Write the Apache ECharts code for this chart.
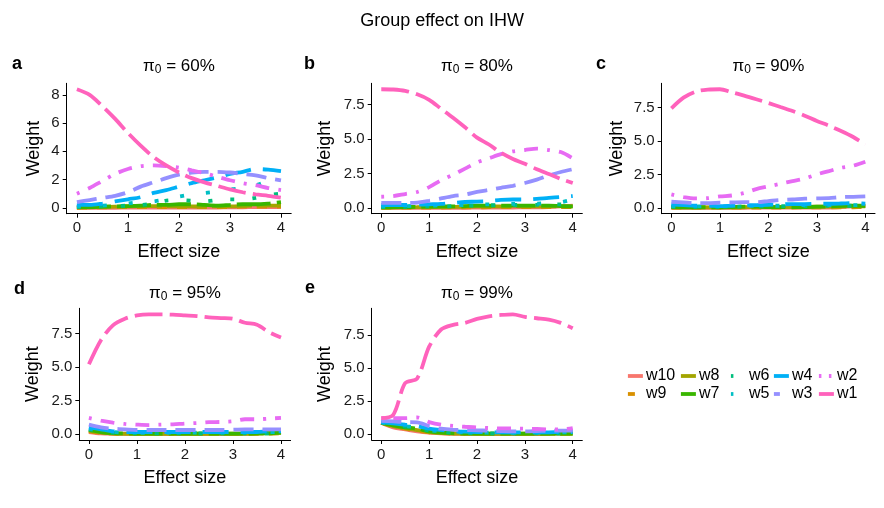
<!DOCTYPE html>
<html>
<head>
<meta charset="utf-8">
<script src="https://cdn.jsdelivr.net/npm/echarts@6/dist/echarts.min.js"></script>
<style>html,body{margin:0;padding:0;background:#fff}#c{width:884px;height:508px}</style>
</head>
<body>
<div id="c"></div>
<script>
// ---------- DATA ----------
const X = [0, 0.25, 0.5, 0.75, 1, 1.25, 1.5, 1.75, 2, 2.25, 2.5, 2.75, 3, 3.25, 3.5, 3.75, 4];
const NAMES = ['w1','w2','w3','w4','w5','w6','w7','w8','w9','w10'];
const X_TICKS = [0, 1, 2, 3, 4];
const PANEL_LETTERS = ['a','b','c','d','e'];
const PANEL_PI0 = ['60%','80%','90%','95%','99%'];
const Y_TICKS_A = [0, 2, 4, 6, 8];
const Y_TICKS_B = [0, 2.5, 5, 7.5];

// panel a (pi0 = 60%), rows w1..w10
const panelA = [
  [8.4, 8.0, 7.2, 6.3, 5.3, 4.4, 3.6, 3.0, 2.5, 2.1, 1.8, 1.55, 1.3, 1.1, 0.95, 0.85, 0.72],
  [1.0, 1.4, 1.9, 2.4, 2.75, 2.95, 3.0, 2.95, 2.85, 2.65, 2.45, 2.2, 1.95, 1.75, 1.6, 1.4, 1.25],
  [0.4, 0.55, 0.7, 0.85, 1.1, 1.5, 1.8, 2.1, 2.35, 2.5, 2.55, 2.55, 2.5, 2.4, 2.3, 2.1, 1.95],
  [0.2, 0.2, 0.3, 0.45, 0.6, 0.75, 1.05, 1.25, 1.5, 1.75, 1.95, 2.15, 2.4, 2.55, 2.75, 2.7, 2.6],
  [0.1, 0.12, 0.15, 0.2, 0.3, 0.4, 0.45, 0.6, 0.8, 0.95, 1.05, 1.15, 1.3, 1.4, 1.6, 1.9, 2.2],
  [0.05, 0.08, 0.1, 0.12, 0.15, 0.2, 0.3, 0.5, 0.55, 0.5, 0.45, 0.55, 0.6, 0.6, 0.7, 0.9, 1.0],
  [0.05, 0.05, 0.08, 0.1, 0.12, 0.15, 0.2, 0.2, 0.25, 0.25, 0.2, 0.15, 0.2, 0.25, 0.25, 0.3, 0.4],
  [0.02, 0.03, 0.05, 0.08, 0.1, 0.12, 0.12, 0.1, 0.1, 0.1, 0.08, 0.1, 0.1, 0.12, 0.15, 0.15, 0.15],
  [0.01, 0.02, 0.03, 0.04, 0.05, 0.05, 0.05, 0.05, 0.05, 0.05, 0.05, 0.05, 0.05, 0.08, 0.08, 0.08, 0.1],
  [0, 0, 0, 0, 0.01, 0.01, 0.02, 0.02, 0.02, 0.02, 0.02, 0.02, 0.03, 0.03, 0.05, 0.05, 0.05]
];
// panel b (pi0 = 80%)
const panelB = [
  [8.62, 8.6, 8.5, 8.25, 7.85, 7.2, 6.55, 5.85, 5.1, 4.6, 4.0, 3.55, 3.2, 2.8, 2.45, 2.1, 1.8],
  [0.8, 0.85, 1.0, 1.15, 1.5, 2.0, 2.4, 2.85, 3.3, 3.6, 3.9, 4.1, 4.2, 4.3, 4.2, 4.05, 3.6],
  [0.35, 0.35, 0.35, 0.38, 0.5, 0.68, 0.85, 0.95, 1.15, 1.3, 1.45, 1.6, 1.8, 2.05, 2.35, 2.6, 2.8],
  [0.2, 0.2, 0.2, 0.22, 0.25, 0.28, 0.35, 0.42, 0.45, 0.5, 0.58, 0.6, 0.6, 0.65, 0.72, 0.78, 0.85],
  [0.1, 0.1, 0.12, 0.15, 0.15, 0.18, 0.2, 0.2, 0.22, 0.25, 0.25, 0.28, 0.3, 0.3, 0.35, 0.4, 0.6],
  [0.05, 0.05, 0.06, 0.08, 0.1, 0.1, 0.12, 0.15, 0.15, 0.18, 0.2, 0.2, 0.2, 0.22, 0.25, 0.25, 0.3],
  [0.03, 0.04, 0.05, 0.06, 0.08, 0.1, 0.1, 0.12, 0.15, 0.15, 0.15, 0.15, 0.15, 0.15, 0.15, 0.12, 0.1],
  [0.02, 0.02, 0.03, 0.04, 0.05, 0.05, 0.06, 0.08, 0.1, 0.1, 0.1, 0.12, 0.1, 0.1, 0.1, 0.1, 0.1],
  [0.01, 0.01, 0.01, 0.02, 0.02, 0.02, 0.03, 0.03, 0.03, 0.04, 0.04, 0.04, 0.05, 0.05, 0.05, 0.05, 0.05],
  [0, 0, 0, 0, 0, 0, 0, 0, 0.01, 0.01, 0.02, 0.02, 0.03, 0.03, 0.05, 0.1, 0.15]
];
// panel c (pi0 = 90%)
const panelC = [
  [7.45, 8.25, 8.7, 8.85, 8.88, 8.65, 8.4, 8.13, 7.85, 7.55, 7.25, 6.9, 6.5, 6.15, 5.75, 5.3, 4.75],
  [1.0, 0.8, 0.7, 0.72, 0.85, 0.92, 1.1, 1.4, 1.6, 1.8, 2.0, 2.2, 2.5, 2.75, 3.0, 3.15, 3.45],
  [0.45, 0.4, 0.35, 0.35, 0.38, 0.4, 0.42, 0.42, 0.5, 0.58, 0.62, 0.68, 0.7, 0.72, 0.8, 0.82, 0.85],
  [0.25, 0.2, 0.15, 0.15, 0.12, 0.15, 0.18, 0.2, 0.22, 0.25, 0.28, 0.28, 0.3, 0.3, 0.32, 0.35, 0.3],
  [0.12, 0.1, 0.1, 0.1, 0.1, 0.12, 0.12, 0.15, 0.15, 0.15, 0.18, 0.2, 0.2, 0.2, 0.22, 0.2, 0.2],
  [0.08, 0.06, 0.05, 0.05, 0.06, 0.08, 0.1, 0.1, 0.1, 0.12, 0.12, 0.12, 0.12, 0.15, 0.15, 0.15, 0.15],
  [0.05, 0.04, 0.04, 0.04, 0.04, 0.05, 0.08, 0.08, 0.05, 0.05, 0.05, 0.05, 0.08, 0.1, 0.15, 0.15, 0.15],
  [0.03, 0.03, 0.03, 0.03, 0.03, 0.03, 0.04, 0.05, 0.05, 0.05, 0.05, 0.08, 0.08, 0.08, 0.08, 0.1, 0.1],
  [0.01, 0.01, 0.01, 0.01, 0.01, 0.01, 0.02, 0.02, 0.02, 0.02, 0.02, 0.03, 0.03, 0.03, 0.03, 0.04, 0.05],
  [0, 0, 0, 0, 0, 0, 0, 0.02, 0.02, 0.02, 0.02, 0.02, 0.02, 0.02, 0.05, 0.1, 0.15]
];
// panel d (pi0 = 95%)
const panelD = [
  [5.2, 7.0, 8.1, 8.6, 8.85, 8.93, 8.93, 8.9, 8.85, 8.8, 8.7, 8.65, 8.6, 8.3, 8.15, 7.6, 7.2],
  [1.2, 1.0, 0.85, 0.75, 0.7, 0.67, 0.7, 0.72, 0.78, 0.82, 0.88, 0.9, 0.95, 1.1, 1.1, 1.15, 1.2],
  [0.7, 0.5, 0.4, 0.35, 0.3, 0.3, 0.3, 0.3, 0.3, 0.3, 0.3, 0.3, 0.32, 0.35, 0.35, 0.35, 0.35],
  [0.5, 0.35, 0.2, 0.15, 0.15, 0.15, 0.15, 0.15, 0.15, 0.15, 0.15, 0.15, 0.15, 0.15, 0.15, 0.2, 0.2],
  [0.4, 0.25, 0.15, 0.1, 0.08, 0.08, 0.08, 0.1, 0.1, 0.1, 0.1, 0.12, 0.15, 0.15, 0.15, 0.15, 0.15],
  [0.35, 0.2, 0.1, 0.06, 0.05, 0.05, 0.05, 0.05, 0.05, 0.05, 0.05, 0.05, 0.05, 0.05, 0.05, 0.05, 0.05],
  [0.3, 0.15, 0.06, 0.04, 0.03, 0.03, 0.03, 0.03, 0.03, 0.03, 0.03, 0.03, 0.03, 0.03, 0.05, 0.05, 0.1],
  [0.25, 0.1, 0.05, 0.02, 0.02, 0.02, 0.02, 0.02, 0.02, 0.02, 0.02, 0.02, 0.02, 0.02, 0.03, 0.05, 0.08],
  [0.2, 0.08, 0.03, 0.01, 0.01, 0.01, 0.01, 0.01, 0.01, 0.01, 0.01, 0.01, 0.01, 0.01, 0.02, 0.03, 0.05],
  [0.15, 0.05, 0.02, 0.01, 0, 0, 0, 0, 0, 0, 0, 0, 0, 0.02, 0.05, 0.1, 0.15]
];
// panel e (pi0 = 99%)
const panelE = [
  [1.2, 1.45, 3.85, 4.2, 6.6, 7.9, 8.25, 8.4, 8.7, 8.9, 9.0, 9.05, 8.85, 8.75, 8.65, 8.4, 8.0],
  [1.2, 1.2, 1.2, 1.25, 0.9, 0.7, 0.62, 0.55, 0.5, 0.45, 0.42, 0.42, 0.4, 0.38, 0.35, 0.35, 0.45],
  [1.0, 0.95, 0.9, 0.88, 0.6, 0.4, 0.32, 0.3, 0.28, 0.25, 0.22, 0.2, 0.2, 0.22, 0.25, 0.25, 0.25],
  [0.9, 0.8, 0.7, 0.6, 0.4, 0.3, 0.2, 0.18, 0.15, 0.13, 0.12, 0.12, 0.12, 0.12, 0.13, 0.15, 0.15],
  [0.88, 0.75, 0.6, 0.5, 0.3, 0.2, 0.15, 0.12, 0.1, 0.1, 0.1, 0.08, 0.08, 0.1, 0.1, 0.12, 0.15],
  [0.88, 0.7, 0.55, 0.45, 0.25, 0.15, 0.1, 0.08, 0.06, 0.05, 0.05, 0.05, 0.05, 0.05, 0.05, 0.05, 0.05],
  [0.85, 0.65, 0.5, 0.4, 0.2, 0.1, 0.06, 0.04, 0.03, 0.03, 0.03, 0.03, 0.03, 0.03, 0.03, 0.03, 0.03],
  [0.85, 0.6, 0.45, 0.3, 0.15, 0.08, 0.04, 0.03, 0.02, 0.02, 0.02, 0.02, 0.02, 0.02, 0.02, 0.02, 0.02],
  [0.85, 0.55, 0.4, 0.25, 0.12, 0.06, 0.03, 0.02, 0.01, 0.01, 0.01, 0.01, 0.01, 0.01, 0.01, 0.01, 0.01],
  [0.85, 0.5, 0.35, 0.2, 0.1, 0.05, 0.02, 0.01, 0, 0, 0, 0, 0, 0, 0.02, 0.05, 0.15]
];
const PANELS = [panelA, panelB, panelC, panelD, panelE];

// ---------- STYLE ----------
const COLORS = {w1:'#FF62BC', w2:'#E76BF3', w3:'#9590FF', w4:'#00B0F6', w5:'#00BFC4',
                w6:'#00BF7D', w7:'#39B600', w8:'#A3A500', w9:'#D89000', w10:'#F8766D'};
const DASH = {w1:[28,7], w2:[3,9,14,9], w3:[20,9], w4:[26,12], w5:[4,22], w6:[4,18],
              w7:[34,6], w8:[40,5], w9:[10,10], w10:'solid'};
const LEGEND_DASH = {w1:'solid', w2:[2.5,7.5], w3:[6,20], w4:'solid', w5:[2.5,20], w6:[2.5,20],
                     w7:'solid', w8:'solid', w9:[7,20], w10:'solid'};
const GRIDS = [
  {left:66.7, top:83.3, width:224.5, height:130.4},
  {left:371.7, top:83.3, width:210.6, height:130.4},
  {left:661.7, top:83.3, width:213.3, height:130.4},
  {left:79.3, top:308.3, width:211.3, height:131.7},
  {left:371.7, top:308.3, width:210.6, height:131.7}
];
const Y_NAME_GAP = [24, 38, 36, 37, 38];
const FONT = 'Liberation Sans, Arial, sans-serif';

const grid = [], xAxis = [], yAxis = [], series = [], titles = [];
titles.push({text:'Group effect on IHW', left:'center', top:12, padding:0,
  textStyle:{fontFamily:FONT, fontSize:18, fontWeight:'normal', color:'#000'}});

PANELS.forEach((panel, p) => {
  const g = GRIDS[p];
  grid.push(Object.assign({containLabel:false}, g));
  let mx = 0;
  panel.forEach(arr => arr.forEach(v => { if (v > mx) mx = v; }));
  const yt = p === 0 ? Y_TICKS_A : Y_TICKS_B;
  xAxis.push({
    type:'value', gridIndex:p, min:-0.2, max:4.2,
    name:'Effect size', nameLocation:'middle', nameGap:29, nameMoveOverlap:false,
    nameTextStyle:{fontFamily:FONT, fontSize:18, color:'#000'},
    axisLine:{show:true, onZero:false, lineStyle:{color:'#000', width:1}},
    axisTick:{show:true, length:4, lineStyle:{color:'#000'}, customValues:X_TICKS},
    axisLabel:{fontFamily:FONT, fontSize:15, color:'#1a1a1a', margin:7, customValues:X_TICKS,
               formatter: v => String(v)},
    splitLine:{show:false}
  });
  yAxis.push({
    type:'value', gridIndex:p, min:-mx*0.05, max:mx*1.05,
    name:'Weight', nameLocation:'middle', nameGap:Y_NAME_GAP[p], nameRotate:90, nameMoveOverlap:false,
    nameTextStyle:{fontFamily:FONT, fontSize:18, color:'#000'},
    axisLine:{show:true, onZero:false, lineStyle:{color:'#000', width:1}},
    axisTick:{show:true, length:4, lineStyle:{color:'#000'}, customValues:yt},
    axisLabel:{fontFamily:FONT, fontSize:15, color:'#1a1a1a', margin:7, customValues:yt,
               formatter: v => p === 0 ? String(Math.round(v)) : (+v).toFixed(1)},
    splitLine:{show:false}
  });
  // draw w10 first, w1 last (on top)
  for (let i = NAMES.length - 1; i >= 0; i--) {
    const nm = NAMES[i];
    series.push({
      type:'line', name:nm, xAxisIndex:p, yAxisIndex:p,
      data: X.map((x, k) => [x, panel[i][k]]),
      symbol:'none', smooth:0.3, silent:true, animation:false,
      lineStyle:{color:COLORS[nm], width:3.8, type:DASH[nm], cap:'butt'},
      itemStyle:{color:COLORS[nm]}
    });
  }
  titles.push({
    text:'{p|π}{s|0}{p| = ' + PANEL_PI0[p] + '}', padding:0,
    left: g.left + g.width / 2, top: p < 3 ? 56 : 283, textAlign:'center',
    textStyle:{fontWeight:'normal', rich:{
      p:{fontFamily:FONT, fontSize:17, fontWeight:'normal', color:'#000'},
      s:{fontFamily:FONT, fontSize:12, fontWeight:'normal', color:'#000', verticalAlign:'bottom', padding:[8,0,0,0]}
    }}
  });
});
const LETTER_POS = [[12,55],[304,55],[596,55],[14,280],[305,279]];
PANEL_LETTERS.forEach((l, i) => titles.push({
  text:l, left:LETTER_POS[i][0], top:LETTER_POS[i][1], padding:0,
  textStyle:{fontFamily:FONT, fontSize:18, fontWeight:'bold', color:'#000'}
}));

const LEGEND_COLS = [['w10','w9'],['w8','w7'],['w6','w5'],['w4','w3'],['w2','w1']];
const LEGEND_LEFT = [626, 679, 729, 772, 817];
const legend = LEGEND_COLS.map((col, i) => ({
  data: col.map(nm => ({name:nm, lineStyle:{type:LEGEND_DASH[nm], width:3.8, color:COLORS[nm]}})),
  orient:'vertical', left: LEGEND_LEFT[i], top:368,
  itemWidth:15, itemHeight:14, itemGap:2, padding:0, selectedMode:false,
  itemStyle:{opacity:0, color:'rgba(0,0,0,0)', borderWidth:0},
  textStyle:{fontFamily:FONT, fontSize:16, color:'#000', padding:[0,0,0,-2]},
  lineStyle:{width:3.8}
}));

const chart = echarts.init(document.getElementById('c'), null, {renderer:'canvas'});
chart.setOption({
  animation:false, backgroundColor:'#fff',
  title: titles, grid, xAxis, yAxis, series, legend
});
</script>
</body>
</html>
